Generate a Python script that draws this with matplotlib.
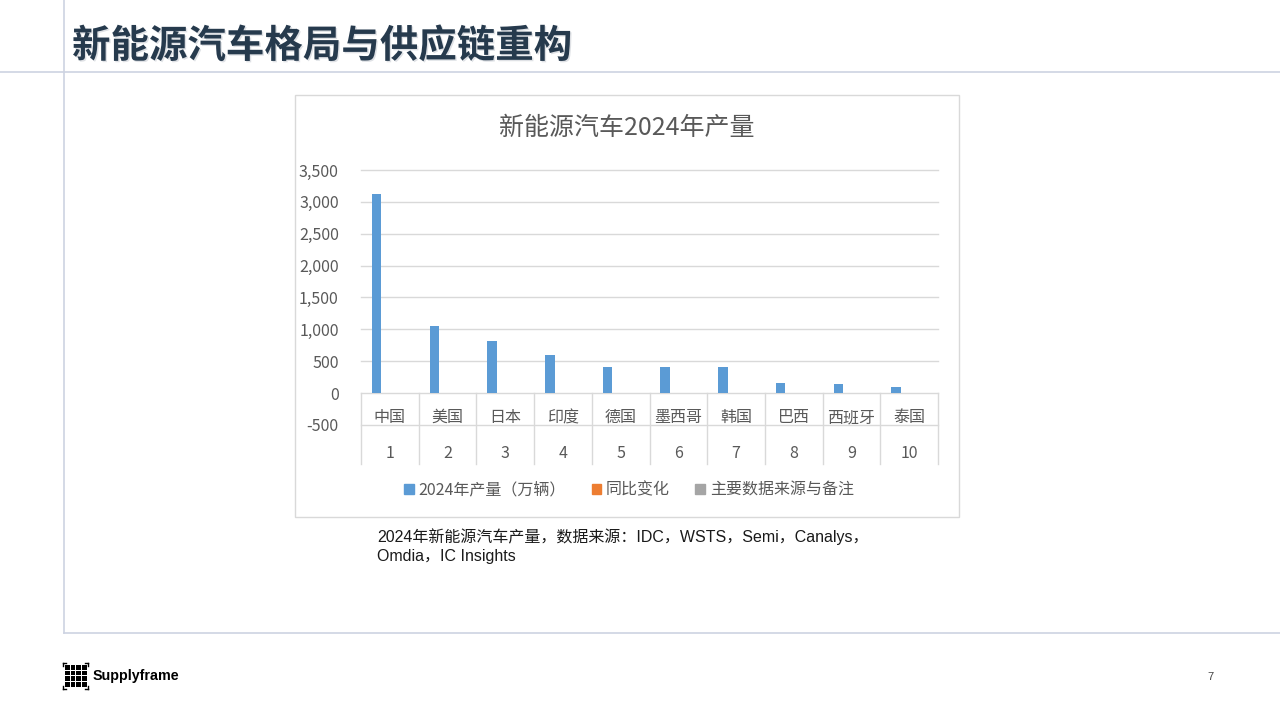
import numpy as np
import matplotlib
matplotlib.use("Agg")
from matplotlib import pyplot as plt
from matplotlib.patches import Rectangle, Patch
from matplotlib.lines import Line2D
from matplotlib.ticker import FuncFormatter
import matplotlib.patheffects as pe

plt.rcParams['font.family'] = ['Noto Sans CJK SC', 'DejaVu Sans']

# data
countries = ['中国', '美国', '日本', '印度', '德国', '墨西哥', '韩国', '巴西', '西班牙', '泰国']
ranks = ['1', '2', '3', '4', '5', '6', '7', '8', '9', '10']
production = [3120, 1050, 820, 600, 410, 410, 405, 150, 140, 100]
yoy_change = [0, 0, 0, 0, 0, 0, 0, 0, 0, 0]
notes = [0, 0, 0, 0, 0, 0, 0, 0, 0, 0]
series_names = ['2024年产量（万辆）', '同比变化', '主要数据来源与备注']
series_colors = ['#5B9BD5', '#ED7D31', '#A5A5A5']
yticks = [-500, 0, 500, 1000, 1500, 2000, 2500, 3000, 3500]

W, H = 1280, 720
fig = plt.figure(figsize=(12.8, 7.2), dpi=100)

def fx(px):
    return px / W

def fy(py):
    return 1 - py / H

# slide frame lines
line_col = '#cdd3e2'
fig.add_artist(Line2D([0, 1], [fy(72), fy(72)], color=line_col, lw=1.2))
fig.add_artist(Line2D([fx(64), fx(64)], [1, fy(633)], color=line_col, lw=1.2))
fig.add_artist(Line2D([fx(64), 1], [fy(633), fy(633)], color=line_col, lw=1.2))

# slide title
fig.text(fx(72), fy(46), '新能源汽车格局与供应链重构', fontsize=27.7, fontweight='bold',
         color='#263a4d', ha='left', va='center',
         path_effects=[pe.withSimplePatchShadow(offset=(1, -1), shadow_rgbFace='#b8bec6', alpha=0.45)])

# chart box
fig.add_artist(Rectangle((fx(295), fy(517)), fx(959) - fx(295), fy(95) - fy(517),
                         fill=False, edgecolor='#d9d9d9', lw=1))
fig.text(fx(627), fy(128), '新能源汽车2024年产量', fontsize=18, color='#595959',
         ha='center', va='center')

# plot area
top_px, bot_px = 170, 424.9
ax = fig.add_axes([fx(361), fy(bot_px), fx(938) - fx(361), (bot_px - top_px) / H])
x = np.arange(len(countries))
bw = 0.165
step = 0.228
ax.bar(x - step, production, width=bw, color=series_colors[0], zorder=3)
ax.bar(x, yoy_change, width=bw, color=series_colors[1], zorder=3)
ax.bar(x + step, notes, width=bw, color=series_colors[2], zorder=3)

ax.set_xlim(-0.5, len(countries) - 0.5)
ax.set_ylim(-500, 3500)
ax.set_yticks(yticks)
ax.yaxis.set_major_formatter(FuncFormatter(lambda v, p: f'{int(v):,}'))
ax.tick_params(axis='y', length=0, pad=16, labelsize=11.5, labelcolor='#595959')
ax.set_xticks([])
ax.grid(axis='y', color='#d9d9d9', lw=1, zorder=0)
for gl in ax.get_ygridlines():
    gl.set_clip_on(False)
for s in ax.spines.values():
    s.set_visible(False)

# multi-level category axis
trans = ax.get_xaxis_transform()
span = bot_px - top_px
sep_top = (bot_px - 393) / span
sep_bot = (bot_px - 464) / span
lab1_y = (bot_px - 417.5) / span
lab2_y = (bot_px - 454) / span
for b in np.arange(len(countries) + 1) - 0.5:
    ax.plot([b, b], [sep_top, sep_bot], transform=trans, color='#d9d9d9', lw=1, clip_on=False)
for i in range(len(countries)):
    ax.text(x[i], lab1_y, countries[i], transform=trans, ha='center', va='center',
            fontsize=11.5, color='#595959')
    ax.text(x[i], lab2_y, ranks[i], transform=trans, ha='center', va='center',
            fontsize=11.5, color='#595959')

handles = [Patch(color=c) for c in series_colors]
fig.legend(handles, series_names, loc='center', bbox_to_anchor=(fx(629), fy(490)), ncol=3,
           frameon=False, fontsize=11.5, labelcolor='#595959', handlelength=0.6,
           handleheight=0.6, handletextpad=0.3, columnspacing=1.6)

# caption
cap_font = ['Liberation Sans', 'Noto Sans CJK SC']
fig.text(fx(377), fy(537), '2024年新能源汽车产量，数据来源：IDC，WSTS，Semi，Canalys，',
         family=cap_font, fontsize=11.5, color='#1a1a1a', ha='left', va='center')
fig.text(fx(377), fy(556), 'Omdia，IC Insights',
         family=cap_font, fontsize=11.5, color='#1a1a1a', ha='left', va='center')

# footer logo
for r in range(4):
    for c in range(4):
        fig.add_artist(Rectangle((fx(65 + c * 5.6), fy(665 + r * 5.6 + 4.8)), fx(4.8), 4.8 / H,
                                 color='black', lw=0))
for (cx, cy, dx, dy) in [(63, 663, 1, 1), (88, 663, -1, 1), (63, 689, 1, -1), (88, 689, -1, -1)]:
    fig.add_artist(Line2D([fx(cx), fx(cx + 3 * dx)], [fy(cy), fy(cy)], color='black', lw=1))
    fig.add_artist(Line2D([fx(cx), fx(cx)], [fy(cy), fy(cy + 3 * dy)], color='black', lw=1))
fig.text(fx(93), fy(676), 'Supplyframe', family=['Liberation Sans', 'DejaVu Sans'],
         fontsize=10.3, fontweight='bold', color='black', ha='left', va='center')
fig.text(fx(1210), fy(677), '7', family=['Liberation Sans', 'DejaVu Sans'],
         fontsize=8, color='#444444', ha='center', va='center')

fig.savefig('out.png', dpi=100)
